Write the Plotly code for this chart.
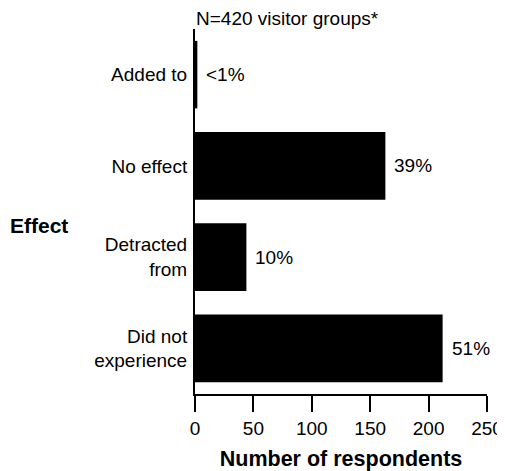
import plotly.graph_objects as go

categories = ["Did not<br>experience", "Detracted<br>from", "No effect", "Added to"]
respondents = [212, 44, 163, 2]
percent_labels = ["51%", "10%", "39%", "<1%"]
x_ticks = [0, 50, 100, 150, 200, 250]
title_text = "N=420 visitor groups*"
x_title = "Number of respondents"
y_title = "Effect"

FONT = "Liberation Sans, Arial, sans-serif"

fig = go.Figure()
fig.add_trace(go.Bar(
    x=respondents, y=categories, orientation="h",
    marker=dict(color="black", line=dict(width=0)),
    width=0.74,
    hoverinfo="skip",
))

for v, c, t in zip(respondents, categories, percent_labels):
    fig.add_annotation(x=v, y=c, xref="x", yref="y", text=t, showarrow=False,
                       xanchor="left", yanchor="middle", xshift=7,
                       font=dict(family=FONT, size=19, color="black"))

fig.add_annotation(x=0, y=1.028, xref="paper", yref="paper", text=title_text,
                   showarrow=False, xanchor="left", yanchor="middle", xshift=-1,
                   font=dict(family=FONT, size=19, color="black"))
fig.add_annotation(x=-0.64, y=0.463, xref="paper", yref="paper", text="<b>" + y_title + "</b>",
                   showarrow=False, xanchor="left", yanchor="middle",
                   font=dict(family=FONT, size=21, color="black"))

fig.update_layout(
    width=497, height=463,
    margin=dict(l=187, r=18, t=21, b=77, autoexpand=False),
    plot_bgcolor="white", paper_bgcolor="white",
    showlegend=False,
    font=dict(family=FONT, size=19, color="black"),
    xaxis=dict(
        range=[0, 250], tickvals=x_ticks, ticks="outside", ticklen=16, tickwidth=2,
        tickcolor="black", showline=True, linecolor="black", linewidth=2,
        showgrid=False, zeroline=False, fixedrange=True, automargin=False,
        tickfont=dict(family=FONT, size=19, color="black"),
        title=dict(text="<b>" + x_title + "</b>", standoff=13,
                   font=dict(family=FONT, size=21.5, color="black")),
    ),
    yaxis=dict(
        range=[-0.5, 3.5], showline=True, linecolor="black", linewidth=2,
        showgrid=False, zeroline=False, ticks="", ticklabelstandoff=2,
        automargin=False,
        tickfont=dict(family=FONT, size=19, color="black"), fixedrange=True,
    ),
)

fig.write_html("out.html")
